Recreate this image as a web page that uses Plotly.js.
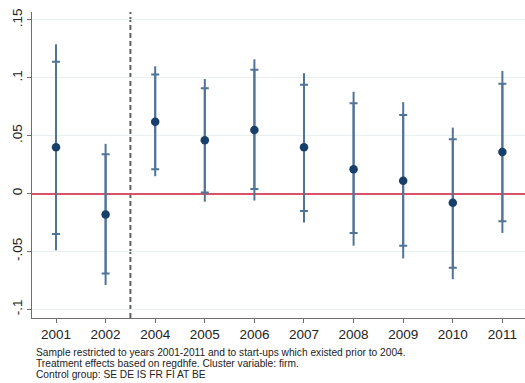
<!DOCTYPE html>
<html>
<head>
<meta charset="utf-8">
<script src="https://cdn.plot.ly/plotly-3.0.1.min.js"></script>
<style>html,body{margin:0;padding:0;background:#fff;}#chart{width:525px;height:383px;}</style>
</head>
<body>
<div id="chart"></div>
<script>
const years = ['2001','2002','2004','2005','2006','2007','2008','2009','2010','2011'];
const coef  = [0.040, -0.018, 0.062, 0.046, 0.055, 0.040, 0.021, 0.011, -0.008, 0.036];
const hi95  = [0.129, 0.043, 0.110, 0.099, 0.116, 0.104, 0.088, 0.079, 0.057, 0.106];
const lo95  = [-0.049, -0.079, 0.015, -0.007, -0.006, -0.025, -0.045, -0.056, -0.074, -0.034];
const hi90  = [0.114, 0.034, 0.103, 0.091, 0.107, 0.094, 0.078, 0.068, 0.047, 0.095];
const lo90  = [-0.035, -0.069, 0.021, 0.001, 0.004, -0.015, -0.034, -0.045, -0.064, -0.024];
const yTickVals = [-0.1, -0.05, 0, 0.05, 0.1, 0.15];
const yTickText = ['-.1', '-.05', '0', '.05', '.1', '.15'];
const notes = [
  'Sample restricted to years 2001-2011 and to start-ups which existed prior to 2004.',
  'Treatment effects based on regdhfe. Cluster variable: firm.',
  'Control group: SE DE IS FR FI AT BE'
];

const lineCol = '#4f7498';
const traces = [
  {
    x: years, y: coef, type: 'scatter', mode: 'markers',
    marker: {size: 8, color: 'rgba(0,0,0,0)'},
    error_y: {type: 'data', symmetric: false,
      array: hi95.map((v, i) => v - coef[i]),
      arrayminus: lo95.map((v, i) => coef[i] - v),
      width: 0, thickness: 2, color: lineCol},
    hoverinfo: 'skip', showlegend: false
  },
  {
    x: years, y: coef, type: 'scatter', mode: 'markers',
    marker: {size: 8, color: 'rgba(0,0,0,0)'},
    error_y: {type: 'data', symmetric: false,
      array: hi90.map((v, i) => v - coef[i]),
      arrayminus: lo90.map((v, i) => coef[i] - v),
      width: 4, thickness: 2, color: lineCol},
    hoverinfo: 'skip', showlegend: false
  },
  {
    x: years, y: coef, type: 'scatter', mode: 'markers',
    marker: {size: 8.5, color: '#173f6b'},
    showlegend: false
  }
];

const layout = {
  width: 525, height: 383,
  margin: {l: 32, r: 0, t: 12, b: 65},
  paper_bgcolor: '#ffffff', plot_bgcolor: '#ffffff',
  font: {family: 'Liberation Sans, Arial, sans-serif', color: '#222', size: 13},
  showlegend: false,
  xaxis: {
    type: 'category', range: [-0.484, 9.456],
    showgrid: false, zeroline: false,
    showline: true, linecolor: '#6e6e6e', linewidth: 1,
    ticks: 'outside', ticklen: 4, tickcolor: '#6e6e6e',
    tickfont: {size: 13.5, color: '#222'}
  },
  yaxis: {
    range: [-0.1075, 0.1569],
    tickvals: yTickVals, ticktext: yTickText,
    tickangle: -90,
    showgrid: true, gridcolor: '#e9f0f1', gridwidth: 1,
    zeroline: true, zerolinecolor: '#d9506c', zerolinewidth: 2,
    showline: true, linecolor: '#6e6e6e', linewidth: 1,
    ticks: 'outside', ticklen: 4, tickcolor: '#6e6e6e',
    tickfont: {size: 13.5, color: '#222'}
  },
  shapes: [
    {type: 'line', xref: 'x', yref: 'paper', x0: 1.5, x1: 1.5, y0: 0, y1: 1,
     line: {color: '#606060', width: 2, dash: '5px,3px'}, layer: 'between'}
  ],
  annotations: notes.map((t, i) => ({
    text: t, xref: 'paper', yref: 'paper', x: 0.004, y: -0.1134 - i * 0.03595,
    xanchor: 'left', yanchor: 'middle', showarrow: false,
    font: {size: 10.2, color: '#222'}
  }))
};

Plotly.newPlot('chart', traces, layout, {displayModeBar: false, staticPlot: true});
</script>
</body>
</html>
